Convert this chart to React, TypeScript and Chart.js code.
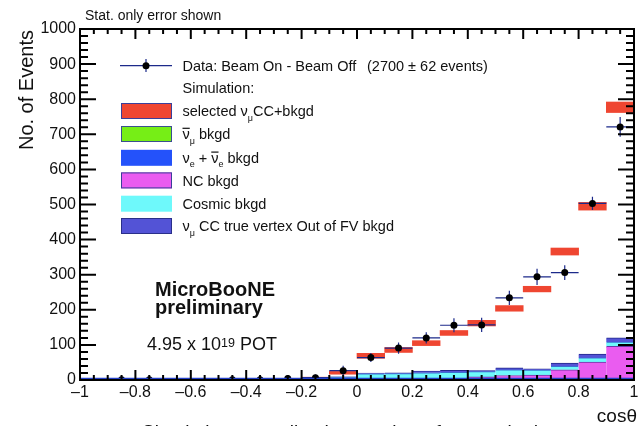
import React, { useEffect, useRef } from 'react';
import { Chart, registerables } from 'chart.js';

Chart.register(...registerables);

const FONT = '"Liberation Sans", Arial, Helvetica, sans-serif';
const TEXT = '#111111';
const NAVY = '#1c2a8a';

// bin centres of cos(theta), 20 bins of width 0.1
const binCenters = [-0.95, -0.85, -0.75, -0.65, -0.55, -0.45, -0.35, -0.25, -0.15, -0.05,
  0.05, 0.15, 0.25, 0.35, 0.45, 0.55, 0.65, 0.75, 0.85, 0.95];
const binWidth = 0.1;

// Data: Beam On - Beam Off
const dataValues: (number | null)[] = [null, 0.5, 0.5, null, null, 0.5, 1, 4, 6.5, 26.5,
  64, 91, 120, 156, 157, 234, 294, 306, 503, 721];
const dataErrors = [0, 3, 3, 0, 0, 3, 3, 6, 9, 14, 13, 16, 16, 20, 20, 20, 23, 21, 19, 28];

// selected numu CC + bkgd (total simulation) and its error band half-height
const mcTotal: (number | null)[] = [null, null, null, null, null, null, null, 2, 6, 20.5,
  69, 85.5, 105, 134, 162, 204, 259, 366, 495, 777];
const mcError = [0, 0, 0, 0, 0, 0, 0, 1, 2, 4, 7, 7, 7, 7, 8, 8, 8, 10, 11, 15];

// stacked backgrounds
const numubarBkgd = [0, 0, 0, 0, 0, 0, 0, 0, 0, 0, 0, 0, 0, 0, 0.3, 0.3, 0.5, 0.5, 1, 2];
const nueBkgd = [0, 0, 0, 0, 0, 0, 0, 0, 0, 0, 0.5, 0.5, 0.5, 0.5, 0.5, 0.5, 0.5, 0.5, 1, 1];
const ncBkgd = [0, 0, 0, 0, 0, 0, 0, 0, 0, 1, 1, 1.5, 3, 4, 8, 12, 13, 28, 49, 93];
const cosmicBkgd = [0, 0, 0, 0, 0, 0, 0, 1, 2, 7, 16, 16, 17, 17, 15, 16, 14, 10, 12, 12];
const outFVBkgd = [0, 0, 0, 0, 0, 0, 0, 0, 0.5, 1, 2, 2.5, 5, 6, 3, 6, 4, 9, 11, 12];

const xTickValues = [-1, -0.8, -0.6, -0.4, -0.2, 0, 0.2, 0.4, 0.6, 0.8, 1];
const xTickLabels = ['–1', '–0.8', '–0.6', '–0.4', '–0.2', '0', '0.2', '0.4', '0.6', '0.8', '1'];
const yTickValues = [0, 100, 200, 300, 400, 500, 600, 700, 800, 900, 1000];
const yTickLabels = ['0', '100', '200', '300', '400', '500', '600', '700', '800', '900', '1000'];

const COLORS = {
  red: '#ef4631',
  green: '#76ee16',
  blue: '#2452fa',
  magenta: '#ea5cf0',
  cyan: '#6ef9fb',
  slate: '#5353d6',
};

type Seg = { t: string; sub?: boolean; bar?: boolean };

function drawSegs(ctx: CanvasRenderingContext2D, x: number, y: number, segs: Seg[], size: number) {
  let cx = x;
  for (const s of segs) {
    const fs = s.sub ? size * 0.62 : size;
    ctx.font = `${fs}px ${FONT}`;
    const dy = s.sub ? size * 0.3 : 0;
    ctx.fillText(s.t, cx, y + dy);
    const w = ctx.measureText(s.t).width;
    if (s.bar) ctx.fillRect(cx, y - size * 0.8, w, 1.2);
    cx += w;
  }
  return cx;
}

const rootPlugin = {
  id: 'rootStyle',
  beforeDatasetDraw(chart: any, args: any) {
    if (args.index !== 0) return;
    const ctx: CanvasRenderingContext2D = chart.ctx;
    const xs = chart.scales.x;
    const ys = chart.scales.y;
    ctx.save();
    ctx.strokeStyle = NAVY;
    ctx.lineWidth = 1.2;
    binCenters.forEach((c, i) => {
      const v = dataValues[i];
      if (v == null) return;
      const x0 = xs.getPixelForValue(c - binWidth / 2);
      const x1 = xs.getPixelForValue(c + binWidth / 2);
      const xc = xs.getPixelForValue(c);
      const y = ys.getPixelForValue(v);
      const yl = ys.getPixelForValue(Math.max(0, v - dataErrors[i]));
      const yh = ys.getPixelForValue(v + dataErrors[i]);
      ctx.beginPath();
      ctx.moveTo(x0, y); ctx.lineTo(x1, y);
      ctx.moveTo(xc, yl); ctx.lineTo(xc, yh);
      ctx.stroke();
    });
    ctx.restore();
  },
  afterDatasetsDraw(chart: any) {
    const ctx: CanvasRenderingContext2D = chart.ctx;
    const { left, right, top, bottom } = chart.chartArea;
    const xs = chart.scales.x;
    const ys = chart.scales.y;
    ctx.save();
    // zero line of the stack
    ctx.strokeStyle = '#2440c8';
    ctx.lineWidth = 1.5;
    ctx.beginPath();
    ctx.moveTo(left, ys.getPixelForValue(0) - 1.5);
    ctx.lineTo(right, ys.getPixelForValue(0) - 1.5);
    ctx.stroke();
    // frame
    ctx.strokeStyle = '#000';
    ctx.lineWidth = 2;
    ctx.strokeRect(left, top, right - left, bottom - top);
    // ticks
    ctx.beginPath();
    for (let k = 0; k <= 40; k++) {
      const v = -1 + k * 0.05;
      const x = xs.getPixelForValue(v);
      const len = k % 4 === 0 ? 10 : 5;
      ctx.moveTo(x, bottom); ctx.lineTo(x, bottom - len);
      ctx.moveTo(x, top); ctx.lineTo(x, top + len);
    }
    for (let k = 0; k <= 50; k++) {
      const v = k * 20;
      const y = ys.getPixelForValue(v);
      const len = k % 5 === 0 ? 16 : 8;
      ctx.moveTo(left, y); ctx.lineTo(left + len, y);
      ctx.moveTo(right, y); ctx.lineTo(right - len, y);
    }
    ctx.stroke();
    ctx.restore();
  },
  afterDraw(chart: any) {
    const ctx: CanvasRenderingContext2D = chart.ctx;
    ctx.save();
    ctx.fillStyle = TEXT;
    ctx.textBaseline = 'alphabetic';
    ctx.textAlign = 'left';

    ctx.font = `14px ${FONT}`;
    ctx.fillText('Stat. only error shown', 85, 20);

    // y title
    ctx.save();
    ctx.translate(33, 30);
    ctx.rotate(-Math.PI / 2);
    ctx.textAlign = 'right';
    ctx.font = `20px ${FONT}`;
    ctx.fillText('No. of Events', 0, 0);
    ctx.restore();

    // x title
    ctx.textAlign = 'right';
    ctx.font = `19px ${FONT}`;
    ctx.fillText('cosθ', 637, 422);
    ctx.textAlign = 'left';

    // cut-off caption at bottom
    ctx.font = `19px ${FONT}`;
    ctx.fillText('Simulation normalized to number of events in data', 142, 438);

    // MicroBooNE labels
    ctx.font = `bold 20px ${FONT}`;
    ctx.fillText('MicroBooNE', 155, 296);
    ctx.fillText('preliminary', 155, 313.5);
    ctx.font = `18px ${FONT}`;
    let px = 147;
    ctx.fillText('4.95 x 10', px, 349.5);
    px += ctx.measureText('4.95 x 10').width;
    ctx.font = `12.5px ${FONT}`;
    ctx.fillText('19', px, 346.5);
    px += ctx.measureText('19').width;
    ctx.font = `18px ${FONT}`;
    ctx.fillText(' POT', px, 349.5);

    // legend: data
    const fs = 14.5;
    ctx.strokeStyle = NAVY;
    ctx.lineWidth = 1.2;
    ctx.beginPath();
    ctx.moveTo(120, 65.7); ctx.lineTo(172, 65.7);
    ctx.moveTo(146, 59); ctx.lineTo(146, 72);
    ctx.stroke();
    ctx.fillStyle = '#000';
    ctx.beginPath();
    ctx.arc(146, 65.7, 3.5, 0, Math.PI * 2);
    ctx.fill();
    ctx.fillStyle = TEXT;
    ctx.font = `${fs}px ${FONT}`;
    ctx.fillText('Data: Beam On - Beam Off', 182.5, 71);
    ctx.fillText('(2700 ± 62 events)', 367, 71);
    ctx.fillText('Simulation:', 182.5, 93);

    const rows: { color: string; border: string | null; segs: Seg[] }[] = [
      { color: COLORS.red, border: '#3a3f9a', segs: [{ t: 'selected ν' }, { t: 'μ', sub: true }, { t: 'CC+bkgd' }] },
      { color: COLORS.green, border: '#3a4f8f', segs: [{ t: 'ν', bar: true }, { t: 'μ', sub: true }, { t: ' bkgd' }] },
      { color: COLORS.blue, border: null, segs: [{ t: 'ν' }, { t: 'e', sub: true }, { t: ' + ' }, { t: 'ν', bar: true }, { t: 'e', sub: true }, { t: ' bkgd' }] },
      { color: COLORS.magenta, border: '#3a3f9a', segs: [{ t: 'NC bkgd' }] },
      { color: COLORS.cyan, border: null, segs: [{ t: 'Cosmic bkgd' }] },
      { color: COLORS.slate, border: '#2a2f8a', segs: [{ t: 'ν' }, { t: 'μ', sub: true }, { t: ' CC true vertex Out of FV bkgd' }] },
    ];
    const centers = [111, 134, 157.8, 180.4, 203.7, 226];
    rows.forEach((r, i) => {
      const cy = centers[i];
      ctx.fillStyle = r.color;
      ctx.fillRect(121, cy - 8, 51, 16);
      if (r.border) {
        ctx.strokeStyle = r.border;
        ctx.lineWidth = 1;
        ctx.strokeRect(121.5, cy - 7.5, 50, 15);
      }
      ctx.fillStyle = TEXT;
      drawSegs(ctx, 182.5, cy + 5.3, r.segs, fs);
    });
    ctx.restore();
  },
};

export default function App() {
  const ref = useRef<HTMLCanvasElement | null>(null);

  useEffect(() => {
    if (!ref.current) return;
    const stack = (data: number[], color: string, border: string) => ({
      type: 'bar' as const,
      data: binCenters.map((x, i) => ({ x, y: data[i] })),
      backgroundColor: color,
      borderColor: border,
      borderWidth: { top: 1, right: 0, bottom: 0, left: 0 },
      borderSkipped: false,
      stack: 'mc',
      barPercentage: 1,
      categoryPercentage: 1,
    });

    const chart = new Chart(ref.current, {
      type: 'bar',
      data: {
        datasets: [
          {
            type: 'scatter',
            label: 'Data',
            data: binCenters
              .map((x, i) => ({ x, y: dataValues[i] }))
              .filter((p) => p.y != null) as any,
            pointRadius: 3.5,
            pointBackgroundColor: '#000',
            pointBorderWidth: 0,
            borderColor: '#000',
          } as any,
          {
            type: 'bar',
            label: 'selected numu CC + bkgd',
            data: binCenters
              .map((x, i) => (mcTotal[i] == null ? null : { x, y: [mcTotal[i]! - mcError[i], mcTotal[i]! + mcError[i]] }))
              .filter((p) => p != null) as any,
            backgroundColor: COLORS.red,
            borderWidth: 0,
            stack: 'red',
            grouped: false,
            barPercentage: 1,
            categoryPercentage: 1,
          } as any,
          stack(numubarBkgd, COLORS.green, '#2f7a10') as any,
          stack(nueBkgd, COLORS.blue, '#1a2fa0') as any,
          stack(ncBkgd, COLORS.magenta, '#6a3aa8') as any,
          stack(cosmicBkgd, COLORS.cyan, '#3a70d0') as any,
          stack(outFVBkgd, COLORS.slate, '#22288a') as any,
        ],
      },
      options: {
        responsive: false,
        devicePixelRatio: 1,
        animation: false,
        layout: { padding: { top: 29, right: 2, left: 0, bottom: 0 } },
        plugins: { legend: { display: false }, tooltip: { enabled: false } },
        scales: {
          x: {
            type: 'linear',
            min: -1,
            max: 1,
            offset: false,
            stacked: true,
            grid: { display: false, drawTicks: false },
            border: { display: false },
            afterBuildTicks: (s: any) => {
              s.ticks = xTickValues.map((v) => ({ value: v }));
            },
            ticks: {
              autoSkip: false,
              maxRotation: 0,
              padding: 3,
              color: TEXT,
              font: { family: FONT, size: 16 },
              callback: (_v: any, i: number) => xTickLabels[i],
            },
            afterFit: (s: any) => {
              s.height = 46;
              s.paddingLeft = 0;
              s.paddingRight = 0;
            },
          },
          y: {
            type: 'linear',
            min: 0,
            max: 1000,
            stacked: true,
            grid: { display: false, drawTicks: false },
            border: { display: false },
            afterBuildTicks: (s: any) => {
              s.ticks = yTickValues.map((v) => ({ value: v }));
            },
            ticks: {
              autoSkip: false,
              padding: 4,
              color: TEXT,
              font: { family: FONT, size: 16 },
              callback: (_v: any, i: number) => yTickLabels[i],
            },
            afterFit: (s: any) => {
              s.width = 80;
              s.paddingTop = 0;
              s.paddingBottom = 0;
            },
          },
        },
      } as any,
      plugins: [rootPlugin as any],
    });
    return () => chart.destroy();
  }, []);

  return (
    <div style={{ position: 'absolute', left: 0, top: 0, width: 638, height: 426, background: '#fff', overflow: 'hidden' }}>
      <canvas ref={ref} width={638} height={426} style={{ display: 'block' }} />
    </div>
  );
}
